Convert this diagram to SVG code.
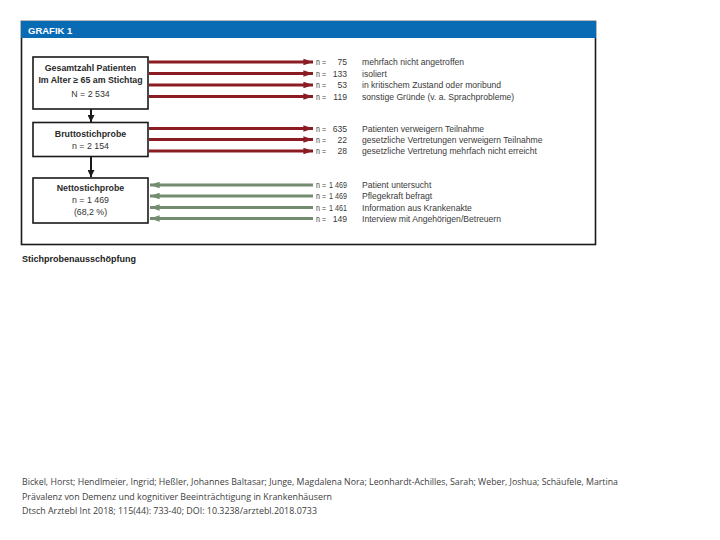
<svg xmlns="http://www.w3.org/2000/svg" width="720" height="540" viewBox="0 0 720 540">
<defs>
<marker id="ar" viewBox="0 0 10 10" refX="10" refY="5" markerWidth="3.2" markerHeight="2.2" markerUnits="strokeWidth" orient="auto" preserveAspectRatio="none"><path d="M0,0 L10,5 L0,10 z" fill="#8b1c24"/></marker>
<marker id="ag" viewBox="0 0 10 10" refX="10" refY="5" markerWidth="3.2" markerHeight="2.2" markerUnits="strokeWidth" orient="auto" preserveAspectRatio="none"><path d="M0,0 L10,5 L0,10 z" fill="#738c6f"/></marker>
<marker id="ab" viewBox="0 0 10 10" refX="10" refY="5" markerWidth="3.5" markerHeight="3.5" markerUnits="strokeWidth" orient="auto"><path d="M0,0 L10,5 L0,10 z" fill="#1a1a1a"/></marker>
</defs>
<style>
.box{fill:#fff;stroke:#1a1a1a;stroke-width:1.6}
.bt{font-family:"Liberation Sans",Arial,sans-serif;font-size:8.8px;font-weight:bold;fill:#2a2a2a;text-anchor:middle}
.nt{font-family:"Liberation Sans",Arial,sans-serif;font-size:8.8px;fill:#333;text-anchor:middle}
.lt{font-family:"Liberation Sans",Arial,sans-serif;font-size:8.6px;fill:#3a3a3a}
.le{font-family:"Liberation Sans",Arial,sans-serif;font-size:8.6px;fill:#3a3a3a;text-anchor:end}
.red{stroke:#8b1c24;stroke-width:3;fill:none;marker-end:url(#ar)}
.grn{stroke:#738c6f;stroke-width:3;fill:none;marker-end:url(#ag)}
.blk{stroke:#1a1a1a;stroke-width:2;fill:none;marker-end:url(#ab)}
.ft{font-family:"Open Sans","Liberation Sans",sans-serif;font-size:8.5px;fill:#404040}
</style>
<rect width="720" height="540" fill="#fff"/>
<g id="frame">
<rect x="21.5" y="21.5" width="574" height="223" fill="#fff" stroke="#1a1a1a" stroke-width="1.6"/>
<rect x="21" y="21" width="575" height="17" fill="#0a6bb5"/>
<text x="28" y="33.5" font-family="Liberation Sans,Arial,sans-serif" font-size="9.5" font-weight="bold" fill="#fff">GRAFIK 1</text>
</g>
<g id="connectors">
<line class="red" x1="149" y1="62" x2="313" y2="62"/>
<line class="red" x1="149" y1="73.5" x2="313" y2="73.5"/>
<line class="red" x1="149" y1="85" x2="313" y2="85"/>
<line class="red" x1="149" y1="96.5" x2="313" y2="96.5"/>
<line class="red" x1="149" y1="128.5" x2="313" y2="128.5"/>
<line class="red" x1="149" y1="139.5" x2="313" y2="139.5"/>
<line class="red" x1="149" y1="151" x2="313" y2="151"/>
<line class="grn" x1="313" y1="185" x2="150" y2="185"/>
<line class="grn" x1="313" y1="196" x2="150" y2="196"/>
<line class="grn" x1="313" y1="207.5" x2="150" y2="207.5"/>
<line class="grn" x1="313" y1="218.5" x2="150" y2="218.5"/>
<line class="blk" x1="91" y1="109" x2="91" y2="122"/>
<line class="blk" x1="91" y1="157" x2="91" y2="177"/>
</g>
<g id="node-gesamt">
<rect class="box" x="33" y="57" width="115" height="52"/>
<text class="bt" x="90.5" y="70.5">Gesamtzahl Patienten</text>
<text class="bt" x="90.5" y="83">Im Alter ≥ 65 am Stichtag</text>
<text class="nt" x="90.5" y="97">N = 2 534</text>
</g>
<g id="node-brutto">
<rect class="box" x="33" y="122.5" width="115" height="34"/>
<text class="bt" x="90.5" y="137">Bruttostichprobe</text>
<text class="nt" x="90.5" y="149">n = 2 154</text>
</g>
<g id="node-netto">
<rect class="box" x="33" y="178" width="115" height="45"/>
<text class="bt" x="90.5" y="190.5">Nettostichprobe</text>
<text class="nt" x="90.5" y="203">n = 1 469</text>
<text class="nt" x="90.5" y="215">(68,2 %)</text>
</g>
<g id="labels">
<text class="lt" x="316" y="65" textLength="10" lengthAdjust="spacingAndGlyphs">n =</text><text class="le" x="347" y="65">75</text><text class="lt" x="362" y="65">mehrfach nicht angetroffen</text>
<text class="lt" x="316" y="76.5" textLength="10" lengthAdjust="spacingAndGlyphs">n =</text><text class="le" x="347" y="76.5">133</text><text class="lt" x="362" y="76.5">isoliert</text>
<text class="lt" x="316" y="88" textLength="10" lengthAdjust="spacingAndGlyphs">n =</text><text class="le" x="347" y="88">53</text><text class="lt" x="362" y="88">in kritischem Zustand oder moribund</text>
<text class="lt" x="316" y="99.5" textLength="10" lengthAdjust="spacingAndGlyphs">n =</text><text class="le" x="347" y="99.5">119</text><text class="lt" x="362" y="99.5">sonstige Gründe (v. a. Sprachprobleme)</text>
<text class="lt" x="316" y="131.5" textLength="10" lengthAdjust="spacingAndGlyphs">n =</text><text class="le" x="347" y="131.5">635</text><text class="lt" x="362" y="131.5">Patienten verweigern Teilnahme</text>
<text class="lt" x="316" y="142.5" textLength="10" lengthAdjust="spacingAndGlyphs">n =</text><text class="le" x="347" y="142.5">22</text><text class="lt" x="362" y="142.5">gesetzliche Vertretungen verweigern Teilnahme</text>
<text class="lt" x="316" y="154" textLength="10" lengthAdjust="spacingAndGlyphs">n =</text><text class="le" x="347" y="154">28</text><text class="lt" x="362" y="154">gesetzliche Vertretung mehrfach nicht erreicht</text>
<text class="lt" x="316" y="188" textLength="10" lengthAdjust="spacingAndGlyphs">n =</text><text class="lt" x="329" y="188" textLength="18" lengthAdjust="spacingAndGlyphs">1 469</text><text class="lt" x="362" y="188">Patient untersucht</text>
<text class="lt" x="316" y="199" textLength="10" lengthAdjust="spacingAndGlyphs">n =</text><text class="lt" x="329" y="199" textLength="18" lengthAdjust="spacingAndGlyphs">1 469</text><text class="lt" x="362" y="199">Pflegekraft befragt</text>
<text class="lt" x="316" y="210.5" textLength="10" lengthAdjust="spacingAndGlyphs">n =</text><text class="lt" x="329" y="210.5" textLength="18" lengthAdjust="spacingAndGlyphs">1 461</text><text class="lt" x="362" y="210.5">Information aus Krankenakte</text>
<text class="lt" x="316" y="221.5" textLength="10" lengthAdjust="spacingAndGlyphs">n =</text><text class="le" x="347" y="221.5">149</text><text class="lt" x="362" y="221.5">Interview mit Angehörigen/Betreuern</text>
</g>
<text x="22" y="262" font-family="Liberation Sans,Arial,sans-serif" font-size="9" font-weight="bold" fill="#222">Stichprobenausschöpfung</text>
<g id="footer">
<text class="ft" x="22" y="485" textLength="596" lengthAdjust="spacingAndGlyphs">Bickel, Horst; Hendlmeier, Ingrid; Heßler, Johannes Baltasar; Junge, Magdalena Nora; Leonhardt-Achilles, Sarah; Weber, Joshua; Schäufele, Martina</text>
<text class="ft" x="22" y="500" textLength="310" lengthAdjust="spacingAndGlyphs">Prävalenz von Demenz und kognitiver Beeinträchtigung in Krankenhäusern</text>
<text class="ft" x="22" y="514" textLength="295" lengthAdjust="spacingAndGlyphs">Dtsch Arztebl Int 2018; 115(44): 733-40; DOI: 10.3238/arztebl.2018.0733</text>
</g>
</svg>
